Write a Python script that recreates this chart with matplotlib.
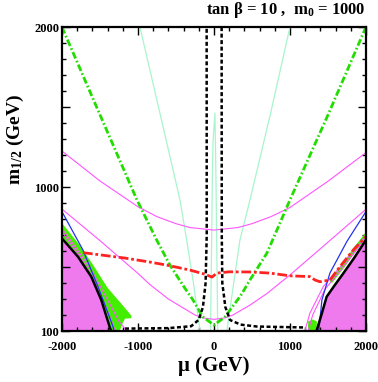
import numpy as np
import matplotlib.pyplot as plt

plt.rcParams['font.family'] = ['Liberation Serif', 'DejaVu Serif']
plt.rcParams['font.weight'] = 'bold'
plt.rcParams['axes.unicode_minus'] = False
plt.rcParams['mathtext.fontset'] = 'custom'
plt.rcParams['mathtext.rm'] = 'Liberation Serif:bold'
plt.rcParams['mathtext.it'] = 'Liberation Serif:bold'
plt.rcParams['mathtext.bf'] = 'Liberation Serif:bold'

# excluded (pink) regions, black boundary
left_edge_mu = [-2000, -1789, -1614, -1483, -1373, -1351]
left_edge_m = [679, 564, 439, 294, 127, 100]
right_edge_mu = [1350, 1420, 1483, 1580, 1702, 1850, 2000]
right_edge_m = [100, 210, 314, 380, 460, 560, 669]

# bright green band (left) and patch (right)
band_mu = [-2000, -1790, -1600, -1400, -1200, -1085, -1090, -1170, -1200, -1230, -1250,
           -1330, -1360, -1470, -1600, -1780, -2000]
band_m = [775, 650, 520, 370, 260, 195, 180, 178, 150, 112, 100,
          100, 130, 300, 445, 570, 690]
patch_mu = [1237, 1240, 1300, 1355, 1350]
patch_m = [100, 160, 172, 160, 100]

# blue lines
blue_l_mu = [-2000, -1724, -1526, -1395, -1329, -1315]
blue_l_m = [846, 606, 377, 212, 127, 100]
blue_r_mu = [1380, 1421, 1526, 1750, 2000]
blue_r_m = [100, 294, 462, 660, 846]

# magenta lines
pink_up_mu = [-2000, -1500, -1000, -750, -500, -316, 0, 316, 500, 750, 1000, 1500, 2000]
pink_up_m = [1225, 1038, 877, 815, 771, 747, 731, 747, 771, 815, 872, 1036, 1215]
pink_lo_mu = [-2000, -1500, -1000, -842, -600, -408, -250, -145, 0, 145, 250, 474, 700, 868, 1000, 1500, 2000]
pink_lo_m = [862, 665, 460, 390, 300, 245, 200, 182, 173, 182, 200, 262, 335, 400, 450, 655, 861]
pink_b1_mu = [-2000, -1800, -1600, -1350, -1250, -1175, -1170]
pink_b1_m = [740, 610, 470, 250, 160, 117, 100]
pink_b2_mu = [-2000, -1800, -1600, -1420, -1330, -1300]
pink_b2_m = [720, 590, 440, 250, 140, 100]
pink_b3_mu = [1197, 1263, 1438, 1702, 1987]
pink_b3_m = [100, 212, 377, 523, 690]
pink_b4_mu = [1240, 1300, 1460, 1710, 2000]
pink_b4_m = [100, 200, 360, 505, 680]

# green dash-dot
gdd_mu = [-2000, -1500, -1013, -754, -579, -400, -276, -150, 0, 150, 211, 350, 474, 697, 1000, 1500, 2000]
gdd_m = [2000, 1452, 919, 669, 512, 380, 294, 190, 137, 190, 231, 320, 419, 587, 919, 1450, 2000]

# red dash-dot
red_mu = [-1724, -1400, -1171, -842, -600, -316, -118, -26, 39, 200, 474, 737, 1000,
          1263, 1329, 1395, 1526, 1658, 1833, 2000]
red_m = [590, 570, 556, 531, 510, 481, 455, 437, 462, 470, 469, 462, 445,
         440, 419, 408, 419, 502, 606, 690]

# pale green lines
mint_l_mu = [-974, -700, -447, -359, -270, -184, -180]
mint_l_m = [2000, 1440, 919, 669, 400, 106, 100]
mint_r_mu = [1000, 740, 474, 342, 260, 171, 168]
mint_r_m = [2000, 1450, 919, 669, 400, 106, 100]
spike_mu = [-45, -32, -20, -12, 13, 25, 38, 50]
spike_m = [100, 600, 1100, 1280, 1462, 1100, 600, 100]

# black dashed
bd_l_mu = [-1171, -600, -300, -200, -145, -110, -95, -96]
bd_l_m = [115, 118, 130, 170, 250, 400, 700, 2000]
bd_r_mu = [101, 103, 110, 150, 211, 350, 566, 1197]
bd_r_m = [2000, 700, 400, 250, 169, 140, 128, 122]

fig = plt.figure(figsize=(3.78, 3.82), dpi=100)
ax = fig.add_axes([0.164, 0.1335, 0.804, 0.7955])

violet = '#ee7aee'
ax.fill(left_edge_mu + [-2000], left_edge_m + [100], color=violet, lw=0)
ax.fill([1350] + right_edge_mu + [2000], [100] + right_edge_m + [100], color=violet, lw=0)
ax.fill(band_mu, band_m, color='#44ee00', lw=0)
ax.fill(patch_mu, patch_m, color='#44ee00', lw=0)
ax.plot([1550, 1700, 1850, 2000], [415, 505, 610, 700], color='#44ee00', lw=2.5)

ax.plot(mint_l_mu, mint_l_m, color='#a8f5cc', lw=0.9)
ax.plot(mint_r_mu, mint_r_m, color='#a8f5cc', lw=0.9)
ax.plot(spike_mu, spike_m, color='#a8f5cc', lw=0.9)

for mu, m in [(pink_up_mu, pink_up_m), (pink_lo_mu, pink_lo_m), (pink_b1_mu, pink_b1_m),
              (pink_b2_mu, pink_b2_m), (pink_b3_mu, pink_b3_m), (pink_b4_mu, pink_b4_m)]:
    ax.plot(mu, m, color='#ff55ff', lw=0.8)

ax.plot(blue_l_mu, blue_l_m, color='#2233ee', lw=0.9)
ax.plot(blue_r_mu, blue_r_m, color='#2233ee', lw=0.9)

ax.plot(gdd_mu, gdd_m, color='#22dd00', lw=2.0, ls=(0, (2.5, 0.9, 0.6, 0.9)))
ax.plot(red_mu, red_m, color='#ff2222', lw=2.0, ls=(0, (3.5, 1.0, 1.0, 1.0)))
ax.plot(bd_l_mu, bd_l_m, color='black', lw=1.8, ls=(0, (1.6, 1.0)))
ax.plot(bd_r_mu, bd_r_m, color='black', lw=1.8, ls=(0, (1.6, 1.0)))

ax.plot(left_edge_mu, left_edge_m, color='black', lw=1.8)
ax.plot(right_edge_mu, right_edge_m, color='black', lw=1.8)

ax.set_xlim(-2000, 2000)
ax.set_ylim(100, 2000)
ax.set_xticks([-2000, -1000, 0, 1000, 2000])
ax.set_xticks(np.arange(-2000, 2001, 200), minor=True)
ax.set_yticks([100, 500, 1000, 1500, 2000])
ax.set_yticklabels(['100', '', '1000', '', '2000'])
ax.set_yticks(np.arange(100, 2001, 100), minor=True)
ax.tick_params(which='both', direction='in', top=True, right=True, labelsize=9, width=1.0)
ax.tick_params(which='major', length=6)
ax.tick_params(which='minor', length=3)
ax.tick_params(axis='x', pad=7)
ax.tick_params(axis='y', pad=2)
for lab in ax.get_xticklabels() + ax.get_yticklabels():
    lab.set_fontweight('bold')
for sp in ax.spines.values():
    sp.set_linewidth(1.6)

ax.set_xlabel('μ (GeV)', fontsize=15, fontweight='bold', labelpad=2)
ax.set_ylabel('m$_{1/2}$ (GeV)', fontsize=14, fontweight='bold')
ax.yaxis.set_label_coords(-0.12, 0.63)
ax.text(1.0, 1.025, 'tan β = 10 ,  m$_0$ = 1000', transform=ax.transAxes,
        ha='right', va='bottom', fontsize=12, fontweight='bold')

fig.savefig('out.png', dpi=100)
